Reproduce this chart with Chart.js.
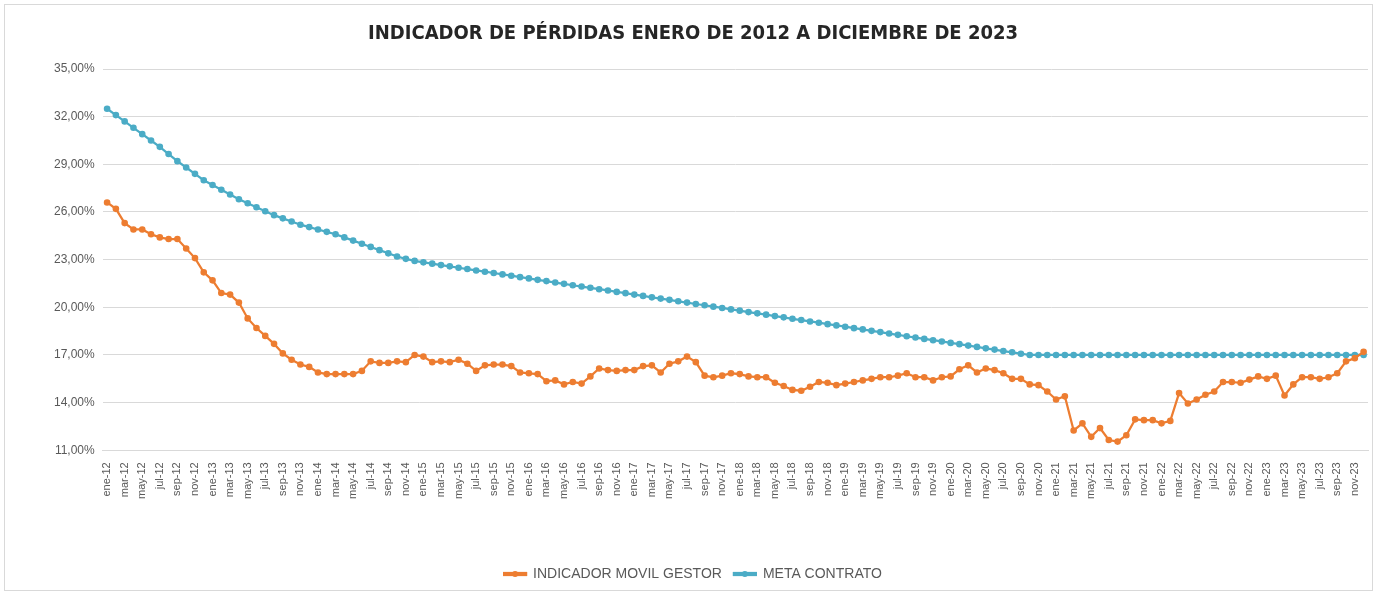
<!DOCTYPE html>
<html>
<head>
<meta charset="utf-8">
<script src="https://cdn.jsdelivr.net/npm/chart.js@4.4.1/dist/chart.umd.min.js"></script>
<style>
  html, body { margin: 0; padding: 0; background: #fff; }
  #frame { position: absolute; left: 4px; top: 4px; width: 1369px; height: 587px; border: 1px solid #d9d9d9; box-sizing: border-box; }
  #wrap { position: absolute; left: 0; top: 0; width: 1378px; height: 594px; }
</style>
</head>
<body>
<div id="frame"></div>
<div id="wrap"><canvas id="lossChart"></canvas></div>
<script>
const monthNames = ['ene', 'feb', 'mar', 'abr', 'may', 'jun', 'jul', 'ago', 'sep', 'oct', 'nov', 'dic'];
const yearCodes = ['12', '13', '14', '15', '16', '17', '18', '19', '20', '21', '22', '23'];
const labels = [];
yearCodes.forEach(y => monthNames.forEach(m => labels.push(m + '-' + y)));

const yTicks = [11, 14, 17, 20, 23, 26, 29, 32, 35];

// INDICADOR MOVIL GESTOR (%), ene-12 .. dic-23
const indicadorMovil = [
    26.6, 26.2, 25.3, 24.9, 24.9, 24.6, 24.4, 24.3, 24.3, 23.7, 23.1, 22.2,
    21.7, 20.9, 20.8, 20.3, 19.3, 18.7, 18.2, 17.7, 17.1, 16.7, 16.4, 16.25,
    15.9, 15.8, 15.8, 15.8, 15.8, 16.0, 16.6, 16.5, 16.5, 16.6, 16.55, 17.0,
    16.9, 16.55, 16.6, 16.55, 16.7, 16.45, 16.0, 16.35, 16.4, 16.4, 16.3, 15.9,
    15.85, 15.8, 15.35, 15.4, 15.15, 15.3, 15.2, 15.65, 16.15, 16.05, 16.0, 16.05,
    16.05, 16.3, 16.35, 15.9, 16.45, 16.6, 16.9, 16.55, 15.7, 15.6, 15.7, 15.85,
    15.8, 15.65, 15.6, 15.6, 15.25, 15.05, 14.8, 14.75, 15.0, 15.3, 15.25, 15.1,
    15.2, 15.3, 15.4, 15.5, 15.6, 15.6, 15.7, 15.85, 15.6, 15.6, 15.4, 15.6,
    15.65, 16.1, 16.35, 15.9, 16.15, 16.05, 15.85, 15.5, 15.5, 15.15, 15.1, 14.7,
    14.2, 14.4, 12.25, 12.7, 11.85, 12.4, 11.65, 11.55, 11.95, 12.95, 12.9, 12.9,
    12.7, 12.85, 14.6, 13.95, 14.2, 14.5, 14.7, 15.3, 15.3, 15.25, 15.45, 15.65,
    15.5, 15.7, 14.45, 15.15, 15.6, 15.6, 15.5, 15.6, 15.85, 16.6, 16.8, 17.2
];

// META CONTRATO (%)
const metaContrato = [
    32.5, 32.1, 31.7, 31.3, 30.9, 30.5, 30.1, 29.65, 29.2, 28.8, 28.4, 28.0,
    27.7, 27.4, 27.1, 26.8, 26.55, 26.3, 26.05, 25.8, 25.6, 25.4, 25.2, 25.05,
    24.9, 24.75, 24.6, 24.4, 24.2, 24.0, 23.8, 23.6, 23.4, 23.2, 23.05, 22.92,
    22.83, 22.75, 22.66, 22.58, 22.49, 22.41, 22.32, 22.24, 22.16, 22.07, 21.99, 21.90,
    21.82, 21.73, 21.65, 21.56, 21.48, 21.39, 21.31, 21.23, 21.14, 21.06, 20.97, 20.89,
    20.80, 20.72, 20.63, 20.55, 20.47, 20.38, 20.30, 20.21, 20.13, 20.04, 19.96, 19.87,
    19.79, 19.70, 19.62, 19.54, 19.45, 19.37, 19.28, 19.20, 19.11, 19.03, 18.94, 18.86,
    18.78, 18.69, 18.61, 18.52, 18.44, 18.35, 18.27, 18.18, 18.10, 18.01, 17.93, 17.85,
    17.76, 17.68, 17.59, 17.51, 17.42, 17.34, 17.25, 17.17, 17.08, 17.0, 17.0, 17.0,
    17.0, 17.0, 17.0, 17.0, 17.0, 17.0, 17.0, 17.0, 17.0, 17.0, 17.0, 17.0,
    17.0, 17.0, 17.0, 17.0, 17.0, 17.0, 17.0, 17.0, 17.0, 17.0, 17.0, 17.0,
    17.0, 17.0, 17.0, 17.0, 17.0, 17.0, 17.0, 17.0, 17.0, 17.0, 17.0, 17.0
];

const orange = '#ED7D31';
const teal = '#4BACC6';
const narrow = "'Liberation Sans Narrow', 'DejaVu Sans Condensed', 'Liberation Sans', sans-serif";
const plain = "'Liberation Sans', Arial, sans-serif";

// dibuja el marcador en medio de la línea de la leyenda, como en Excel
const legendMarkers = {
    id: 'legendMarkers',
    afterDraw(chart) {
        const legend = chart.legend;
        if (!legend || !legend.legendHitBoxes) return;
        const ctx = chart.ctx;
        legend.legendHitBoxes.forEach((box, i) => {
            const ds = chart.data.datasets[i];
            ctx.save();
            ctx.fillStyle = ds.borderColor;
            ctx.beginPath();
            ctx.arc(box.left + legend.options.labels.boxWidth / 2, box.top + box.height / 2, 3, 0, Math.PI * 2);
            ctx.fill();
            ctx.restore();
        });
    }
};

const ctx = document.getElementById('lossChart').getContext('2d');
new Chart(ctx, {
    type: 'line',
    data: {
        labels: labels,
        datasets: [
            {
                label: 'INDICADOR MOVIL GESTOR',
                data: indicadorMovil,
                borderColor: orange,
                backgroundColor: orange,
                pointBackgroundColor: orange,
                pointBorderColor: orange,
                borderWidth: 2.25,
                pointRadius: 2.2,
                tension: 0
            },
            {
                label: 'META CONTRATO',
                data: metaContrato,
                borderColor: teal,
                backgroundColor: teal,
                pointBackgroundColor: teal,
                pointBorderColor: teal,
                borderWidth: 2.25,
                pointRadius: 2.2,
                tension: 0
            }
        ]
    },
    options: {
        responsive: true,
        maintainAspectRatio: false,
        animation: false,
        layout: { padding: { left: 18, right: 10, top: 14, bottom: 3 } },
        plugins: {
            title: {
                display: true,
                text: 'INDICADOR DE PÉRDIDAS ENERO DE 2012 A DICIEMBRE DE 2023',
                color: '#262626',
                font: { family: narrow, size: 20, weight: 'bold' },
                padding: { top: 8, bottom: 23 }
            },
            legend: {
                position: 'bottom',
                labels: {
                    color: '#595959',
                    font: { family: plain, size: 14 },
                    boxWidth: 22,
                    boxHeight: 2,
                    padding: 12
                }
            },
            tooltip: { enabled: false }
        },
        scales: {
            x: {
                offset: true,
                grid: { display: false },
                border: { color: '#d9d9d9' },
                afterFit: axis => { axis.height += 52; },
                ticks: {
                    autoSkip: false,
                    maxRotation: 90,
                    minRotation: 90,
                    color: '#595959',
                    font: { family: plain, size: 11 },
                    padding: 4,
                    callback: (v, i) => (i % 2 === 0 ? labels[i] : null)
                }
            },
            y: {
                min: yTicks[0],
                max: yTicks[yTicks.length - 1],
                afterBuildTicks: axis => { axis.ticks = yTicks.map(v => ({ value: v })); },
                afterFit: axis => { axis.width += 28; },
                grid: { color: '#d9d9d9', drawTicks: false },
                border: { display: false },
                ticks: {
                    color: '#595959',
                    font: { family: plain, size: 12 },
                    padding: 8,
                    callback: v => v.toFixed(2).replace('.', ',') + '%'
                }
            }
        }
    },
    plugins: [legendMarkers]
});
</script>
</body>
</html>
